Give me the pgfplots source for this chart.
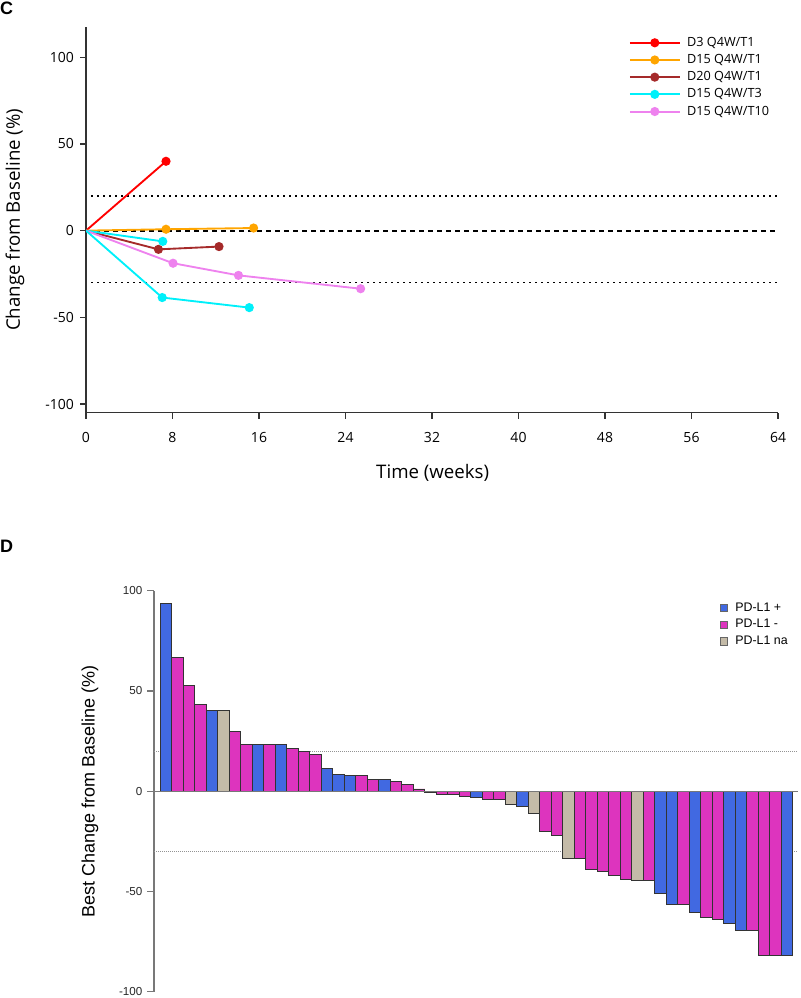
\documentclass[border=0pt]{standalone}
\usepackage{fontspec}
\setmainfont{Liberation Sans}
\newfontfamily\osans{Open Sans}
\usepackage{pgfplots}
\pgfplotsset{compat=1.18}

\definecolor{pdpos}{RGB}{65,105,225}
\definecolor{pdneg}{RGB}{221,52,190}
\definecolor{pdna}{RGB}{196,187,168}
\definecolor{sred}{RGB}{255,0,0}
\definecolor{sbrown}{RGB}{165,42,42}
\definecolor{sorange}{RGB}{255,165,0}
\definecolor{scyan}{RGB}{0,240,250}
\definecolor{sviolet}{RGB}{238,130,238}
\definecolor{axgray}{RGB}{120,120,120}

\pgfplotsset{
  spider/.style={line width=1.4pt, mark=*, mark size=2.7pt, mark phase=2, mark options={solid}},
}

\begin{document}
\begin{tikzpicture}
\path[use as bounding box] (0pt,0pt) rectangle (600pt,-748.5pt);

% panel labels
\node[font=\bfseries\fontsize{13.5}{14}\selectfont] at (5pt,-6.3pt) {C};
\node[font=\bfseries\fontsize{13.5}{14}\selectfont] at (5pt,-410pt) {D};

% ---------------- C: spider plot ----------------
\begin{axis}[
  at={(64.5pt,-309.5pt)}, anchor=south west,
  scale only axis, width=519pt, height=289.3pt,
  xmin=0, xmax=64, ymin=-105, ymax=117.5,
  axis x line*=bottom, axis y line*=left,
  axis line style={line width=1pt, black!80, -},
  every tick/.style={line width=1pt, black!80},
  tick align=outside, major tick length=4.5pt,
  xtick={0,8,...,64}, ytick={-100,-50,0,50,100},
  /pgf/number format/assume math mode=true,
  tick label style={font=\osans\fontsize{10.5}{12}\selectfont},
  xticklabel style={yshift=-7pt},
  yticklabel style={xshift=-1pt},
  xlabel={Time (weeks)}, ylabel={Change from Baseline (\%)},
  label style={font=\osans\fontsize{14}{16}\selectfont},
  xlabel style={at={(axis description cs:0.501,-0.155)}, anchor=center},
  ylabel style={at={(axis description cs:-0.1026,0.5)}, anchor=center},
  legend style={at={(axis description cs:0.784,0.981)}, anchor=north west,
    draw=none, fill=none, font=\osans\fontsize{9.5}{11}\selectfont,
    row sep=0.5pt, inner sep=0pt},
  legend cell align=left,
  legend image code/.code={
    \draw[#1, mark=none, line width=1.5pt] (0pt,0pt) -- (37.5pt,0pt);
    \draw[#1, only marks, mark phase=1] plot coordinates {(18.75pt,0pt)};
    \path[draw=none, fill=none] (0pt,0pt) -- (41pt,0pt);},
]
\addplot[forget plot, black, line width=1.1pt, dash pattern=on 1pt off 3.5pt] coordinates {(0.5,20) (64,20)};
\addplot[forget plot, black, line width=1.1pt, dash pattern=on 1pt off 3.5pt] coordinates {(0.5,-30) (64,-30)};
\addplot[forget plot, black, line width=1.4pt, dash pattern=on 3.75pt off 3pt] coordinates {(0,0) (64,0)};

\addplot[spider, color=sred] coordinates {(0,0) (7.4,40)};
\addlegendentry{D3 Q4W/T1}
\addplot[spider, color=sorange] coordinates {(0,0) (7.4,0.8) (15.5,1.5)};
\addlegendentry{D15 Q4W/T1}
\addplot[spider, color=sbrown] coordinates {(0,0) (6.7,-10.8) (12.3,-9.2)};
\addlegendentry{D20 Q4W/T1}
\addplot[spider, color=scyan] coordinates {(0,0) (7.1,-6.2)};
\addlegendentry{D15 Q4W/T3}
\addplot[spider, color=sviolet] coordinates {(0,0) (8.05,-18.8) (14.1,-25.8) (25.4,-33.5)};
\addlegendentry{D15 Q4W/T10}
\addplot[spider, color=scyan, forget plot] coordinates {(0,0) (7.05,-38.6) (15.1,-44.4)};
\end{axis}

% ---------------- D: waterfall ----------------
\begin{axis}[
  at={(115.5pt,-743.8pt)}, anchor=south west,
  scale only axis, width=483pt, height=300.75pt,
  xmin=-0.05, xmax=55.95, ymin=-100, ymax=100,
  axis y line*=left, axis x line=none,
  axis line style={line width=0.8pt, axgray, -},
  every tick/.style={line width=0.8pt, axgray},
  tick align=outside, major tick length=5.25pt,
  ytick={-100,-50,0,50,100}, xtick=\empty,
  /pgf/number format/assume math mode=true,
  tick label style={font=\fontsize{8.7}{10}\selectfont, black!85},
  ylabel={Best Change from Baseline (\%)},
  ylabel style={font=\fontsize{13.5}{15}\selectfont, at={(axis description cs:-0.0994,0.5)}, anchor=center},
  ybar, bar width=1, bar shift=0pt,
  legend style={at={(axis description cs:0.878,0.978)}, anchor=north west,
    draw=none, fill=none, font=\fontsize{9.3}{11}\selectfont,
    row sep=0.7pt, inner sep=0pt},
  legend cell align=left,
  legend image code/.code={
    \draw[#1, draw=black!60, line width=0.4pt] (0pt,-2.7pt) rectangle (5.4pt,2.7pt);
    \path[draw=none, fill=none] (0pt,0pt) -- (9.5pt,0pt);},
]
\addplot[forget plot, sharp plot, axgray!80, line width=0.6pt, dash pattern=on 0.6pt off 0.9pt] coordinates {(-0.05,20) (55.95,20)};
\addplot[forget plot, sharp plot, axgray!80, line width=0.6pt, dash pattern=on 0.6pt off 0.9pt] coordinates {(-0.05,-30) (55.95,-30)};

\addplot[ybar, bar shift=0pt, fill=pdpos, draw=black!80, line width=0.5pt] coordinates {
 (1,93.7) (5,40.2) (9,23.3) (11,23.3) (15,11.3) (16,8.2) (17,7.8) (20,5.8)
 (28,-3) (32,-7.5) (44,-51) (45,-56.2) (47,-60.3) (50,-65.8) (51,-69.3) (55,-81.8)};
\addlegendentry{PD-L1 +}
\addplot[ybar, bar shift=0pt, fill=pdneg, draw=black!80, line width=0.5pt] coordinates {
 (2,66.7) (3,52.7) (4,43.5) (7,30) (8,23.3) (10,23.3) (12,21.3) (13,20) (14,18.2)
 (18,7.7) (19,5.7) (21,4.8) (22,3.3) (23,1.2) (24,-0.5) (25,-1.5) (26,-1.5) (27,-2.7)
 (29,-3.8) (30,-4.2) (34,-20.2) (35,-22.2) (37,-33.3) (38,-38.8) (39,-40) (40,-41.8)
 (41,-43.8) (43,-44.2) (46,-56.2) (48,-62.7) (49,-63.8) (52,-69.5) (53,-81.8) (54,-81.8)};
\addlegendentry{PD-L1 -}
\addplot[ybar, bar shift=0pt, fill=pdna, draw=black!80, line width=0.5pt] coordinates {
 (6,40.2) (31,-6.5) (33,-10.8) (36,-33.3) (42,-44.2)};
\addlegendentry{PD-L1 na}

\addplot[forget plot, sharp plot, axgray, line width=0.8pt] coordinates {(-0.05,0) (55.95,0)};
\end{axis}
\end{tikzpicture}
\end{document}
